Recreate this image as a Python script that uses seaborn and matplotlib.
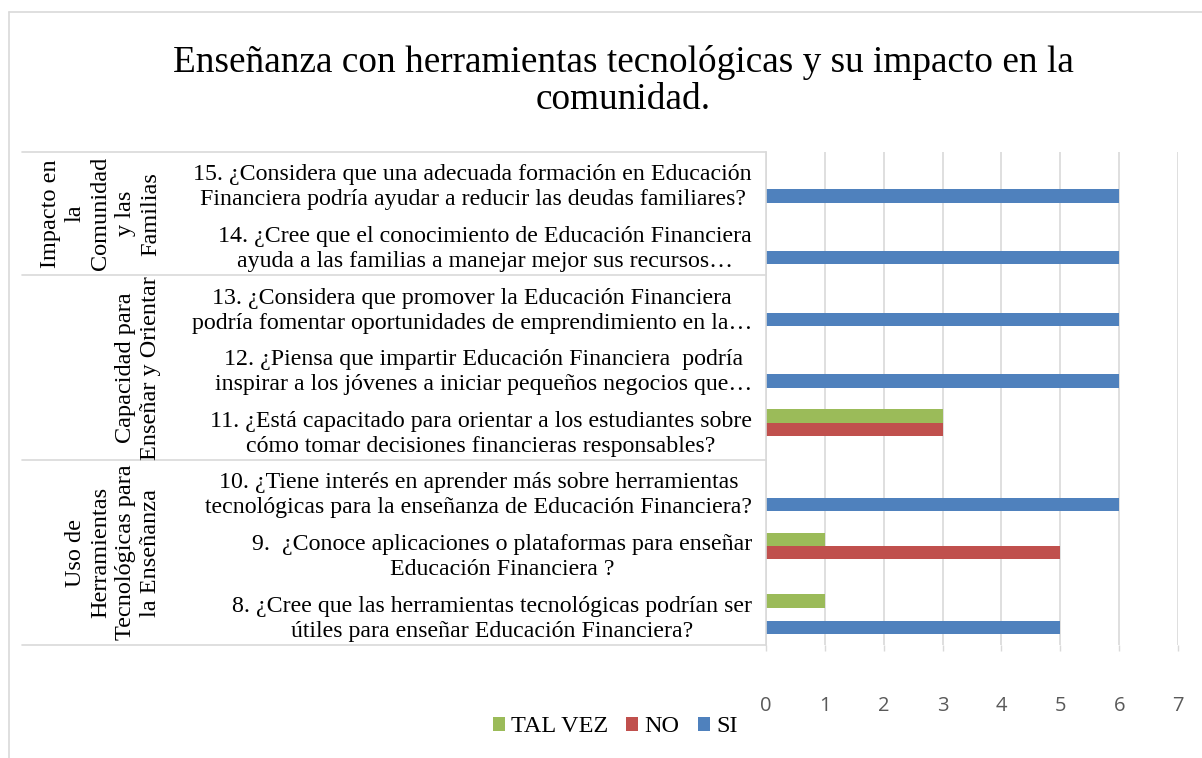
import matplotlib
matplotlib.use("Agg")
import matplotlib.pyplot as plt
import matplotlib.transforms as mtransforms
from matplotlib.lines import Line2D
import seaborn as sns
import pandas as pd

# ---------------- data ----------------
titulo = "Enseñanza con herramientas tecnológicas y su impacto en la\ncomunidad."
preguntas = [
    "15. ¿Considera que una adecuada formación en Educación\nFinanciera podría ayudar a reducir las deudas familiares?",
    "14. ¿Cree que el conocimiento de Educación Financiera\nayuda a las familias a manejar mejor sus recursos…",
    "13. ¿Considera que promover la Educación Financiera\npodría fomentar oportunidades de emprendimiento en la…",
    "12. ¿Piensa que impartir Educación Financiera  podría\ninspirar a los jóvenes a iniciar pequeños negocios que…",
    "11. ¿Está capacitado para orientar a los estudiantes sobre\ncómo tomar decisiones financieras responsables?",
    "10. ¿Tiene interés en aprender más sobre herramientas\ntecnológicas para la enseñanza de Educación Financiera?",
    "9.  ¿Conoce aplicaciones o plataformas para enseñar\nEducación Financiera ?",
    "8. ¿Cree que las herramientas tecnológicas podrían ser\nútiles para enseñar Educación Financiera?",
]
si = [6, 6, 6, 6, 0, 6, 0, 5]
no = [0, 0, 0, 0, 3, 0, 5, 0]
tal_vez = [0, 0, 0, 0, 3, 0, 1, 1]
series = ["TAL VEZ", "NO", "SI"]
colores = ["#9BBB59", "#C0504D", "#4F81BD"]
grupos = [
    "Impacto en\nla\nComunidad\ny las\nFamilias",
    "Capacidad para\nEnseñar y Orientar",
    "Uso de\nHerramientas\nTecnológicas para\nla Enseñanza",
]
grupo_tam = [2, 3, 3]
x_ticks = [0, 1, 2, 3, 4, 5, 6, 7]

rows = []
for serie, vals in zip(series, [tal_vez, no, si]):
    for p, v in zip(preguntas, vals):
        rows.append({"pregunta": p, "serie": serie, "valor": v})
df = pd.DataFrame(rows)

# ---------------- figure ----------------
sns.set_theme(style="white")
plt.rcParams["font.family"] = ["Liberation Serif", "DejaVu Serif"]
plt.rcParams["text.color"] = "black"

W, H = 1202, 758
fig = plt.figure(figsize=(W / 100, H / 100), dpi=100)
ax = fig.add_axes([766 / W, 1 - 645 / H, (1178 - 766) / W, (645 - 152) / H])

sns.barplot(data=df, y="pregunta", x="valor", hue="serie", order=preguntas,
            hue_order=series, palette=colores, orient="h", width=0.65,
            linewidth=0, saturation=1, errorbar=None, ax=ax)

ax.set_xlim(0, 7)
ax.set_ylim(7.5, -0.5)
ax.set_xticks(x_ticks)
ax.set_xticklabels([str(t) for t in x_ticks], family=["Open Sans", "DejaVu Sans"],
                   fontsize=14.5, color="#595959")
ax.set_yticks(range(len(preguntas)))
ax.set_yticklabels(preguntas, fontsize=17.2, color="black")
for lab in ax.get_yticklabels():
    lab.set_multialignment("center")
    lab.set_linespacing(1.25)
ax.tick_params(axis="y", length=0, pad=10)
ax.tick_params(axis="x", length=4, width=1, color="#d9d9d9", pad=33, direction="out",
               bottom=True)
ax.set_xlabel("")
ax.set_ylabel("")
ax.grid(axis="x", color="#d9d9d9", linewidth=1.2)
ax.set_axisbelow(True)
for s in ["top", "right", "bottom"]:
    ax.spines[s].set_visible(False)
ax.spines["left"].set_color("#d9d9d9")
ax.spines["left"].set_linewidth(1.2)

# legend
sns.move_legend(ax, "center", bbox_to_anchor=(615 / W, 1 - 727 / H),
                bbox_transform=fig.transFigure, ncol=3, frameon=False, title=None,
                fontsize=17.5, handlelength=0.5, handleheight=0.5,
                handletextpad=0.25, columnspacing=0.75)
for t in ax.get_legend().get_texts():
    t.set_color("black")

# title
fig.text(623 / W, 1 - 81 / H, titulo, ha="center", va="center", fontsize=26.8,
         linespacing=1.1, color="black")

# group labels and separators
trans = mtransforms.blended_transform_factory(fig.transFigure, ax.transData)
start = -0.5
bounds = [start]
for g, n in zip(grupos, grupo_tam):
    end = start + n
    fig.text(161 / W, (start + end) / 2, g, rotation=90, ha="right", va="center",
             multialignment="center", fontsize=17.5, transform=trans, linespacing=1.25,
             color="black")
    bounds.append(end)
    start = end
for b in bounds:
    fig.add_artist(Line2D([22 / W, 766 / W], [b, b], transform=trans,
                          color="#d9d9d9", linewidth=1.2))

# chart area border
fig.add_artist(Line2D([9 / W, 9 / W], [0, 1 - 12 / H], color="#d9d9d9", linewidth=1.2))
fig.add_artist(Line2D([9 / W, 1], [1 - 12 / H, 1 - 12 / H], color="#d9d9d9", linewidth=1.2))

fig.savefig("out.png", dpi=100)
